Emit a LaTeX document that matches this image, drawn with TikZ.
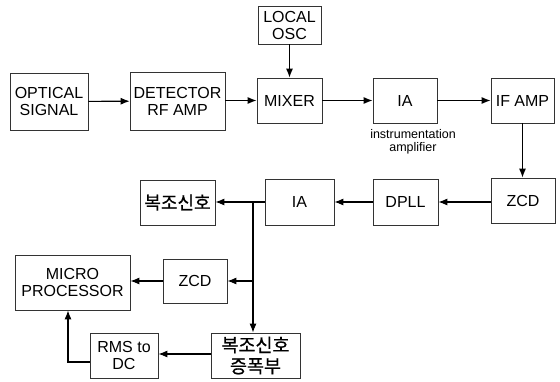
\documentclass[tikz,border=0pt]{standalone}
\usepackage{fontspec}
\setmainfont{Liberation Sans}
\newfontfamily\kr{Noto Sans CJK KR}[AutoFakeBold=0.8]
\usetikzlibrary{arrows.meta}
\begin{document}
\begin{tikzpicture}[x=1pt,y=-1pt,
  box/.style={draw=black!80,line width=0.7pt,inner sep=0pt,align=center,font=\fontsize{16}{17}\selectfont},
  con/.style={line width=1.1pt,-{Latex[length=9pt,width=7pt]}},
  ln/.style={line width=1.1pt}]
\useasboundingbox (0,0) rectangle (560,381);
\node[box,minimum width=78pt,minimum height=57pt] (opt) at (49,101.5) {OPTICAL\\SIGNAL};
\node[box,minimum width=95pt,minimum height=58pt] (det) at (177.5,101) {DETECTOR\\RF AMP};
\node[box,minimum width=63pt,minimum height=38pt] (osc) at (289.5,25) {LOCAL\\OSC};
\node[box,minimum width=65pt,minimum height=45pt] (mix) at (289.5,100.5) {MIXER};
\node[box,minimum width=64pt,minimum height=45pt] (ia1) at (405,100.5) {IA};
\node[font=\fontsize{12.5}{13}\selectfont,align=center,anchor=north] (ialbl) at (413,126) {instrumentation\\amplifier};
\node[box,minimum width=63pt,minimum height=45pt] (ifa) at (522.5,100.5) {IF AMP};
\node[box,minimum width=64pt,minimum height=45pt] (zcd1) at (523,200.5) {ZCD};
\node[box,minimum width=65pt,minimum height=46pt] (dpll) at (405.5,202) {DPLL};
\node[box,minimum width=69pt,minimum height=46pt] (ia2) at (299.5,202) {IA};
\node[box,minimum width=75pt,minimum height=45pt,font=\kr\bfseries\fontsize{18}{20}\selectfont] (bj) at (177.5,202.5) {복조신호};
\node[box,minimum width=64pt,minimum height=44pt] (zcd2) at (195,281) {ZCD};
\node[box,minimum width=115pt,minimum height=55pt] (mp) at (72.5,282.5) {MICRO\\PROCESSOR};
\node[box,minimum width=89pt,minimum height=45pt,font=\kr\bfseries\fontsize{18.5}{21}\selectfont] (amp) at (255.5,355.5) {복조신호\\증폭부};
\node[box,minimum width=68pt,minimum height=45pt] (rms) at (124,355.5) {RMS to\\DC};
\coordinate (j) at (253,202);
\coordinate (j2) at (253,281);
\coordinate (c1) at (68,362);
\draw[con] (opt) -- (det);
\draw[con] (det.east |- mix) -- (mix);
\draw[con] (osc) -- (mix);
\draw[con] (mix) -- (ia1);
\draw[con] (ia1) -- (ifa);
\draw[con] (ifa) -- (ifa |- zcd1.north);
\draw[con] (zcd1.west |- dpll) -- (dpll);
\draw[con] (dpll) -- (ia2);
\draw[con] (ia2.west |- j) -- (bj.east |- j);
\draw[con] (j) -- (j |- amp.north);
\draw[con] (j2) -- (zcd2.east);
\draw[con] (zcd2) -- (mp.east |- zcd2);
\draw[con] (amp.west |- 0,354) -- (rms.east |- 0,354);
\draw[con] (rms.west |- c1) -- (c1) -- (c1 |- mp.south);
\end{tikzpicture}
\end{document}
